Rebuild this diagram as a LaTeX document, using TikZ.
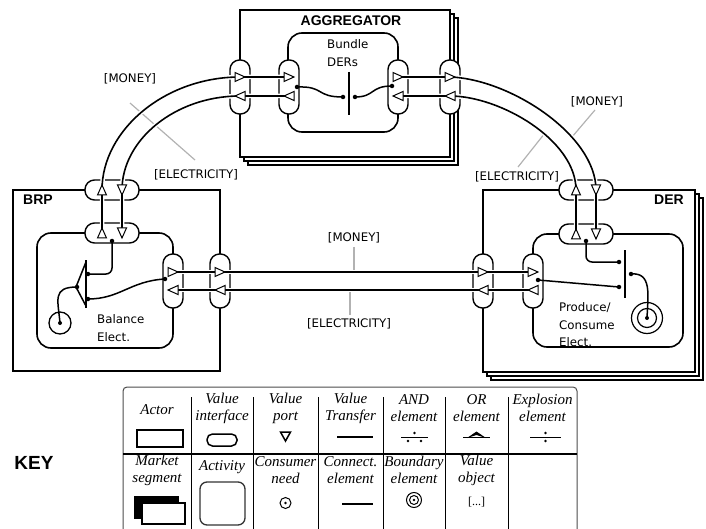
\documentclass[tikz,border=0pt]{standalone}
\usepackage{fontspec}
\setmainfont{DejaVu Sans}
\newfontfamily\ttlfont{Liberation Sans}
\newfontfamily\keyfont{Liberation Serif}
\begin{document}
\begin{tikzpicture}[x=1pt,y=-1pt,
  actor/.style={draw, line width=1.7pt, fill=white},
  activ/.style={draw, line width=1.6pt, rounded corners=14pt},
  vif/.style={draw, line width=1.4pt, fill=white, rounded corners=9.5pt, inner sep=0pt},
  vifv/.style={vif, minimum width=20pt, minimum height=54pt},
  vifh/.style={vif, minimum width=54pt, minimum height=20pt},
  xfer/.style={line width=1.6pt, preaction={draw=white, line width=4.5pt}},
  conn/.style={line width=1.5pt},
  lbl/.style={font=\fontsize{11.8}{17.5}\selectfont, inner sep=0pt},
  ttl/.style={font=\ttlfont\bfseries\fontsize{14}{16}\selectfont, inner sep=0pt},
  greyline/.style={draw=black!30, line width=1.2pt},
  dotn/.style={circle, fill, inner sep=0pt, minimum size=4.5pt},
  keytxt/.style={font=\keyfont\itshape\fontsize{15}{17}\selectfont, align=center, inner sep=0pt},
  port/.pic={\draw[line width=1pt, fill=white, line join=miter] (-5,-4.5) -- (5,0) -- (-5,4.5) -- cycle;}
]
\useasboundingbox (0,0) rectangle (706,529);

% ---------------- actors ----------------
% AGGREGATOR (market segment)
\draw[actor] (248,18) rectangle (458,165);
\draw[actor] (244,14) rectangle (454,161);
\draw[actor] (240,10) rectangle (450,157);
\node[ttl] (aggT) at (351,21) {AGGREGATOR};
% BRP (actor)
\draw[actor] (13,190) rectangle (220,371);
\node[ttl] (brpT) at (38,200) {BRP};
% DER (market segment)
\draw[actor] (491,198) rectangle (703,380);
\draw[actor] (487,194) rectangle (699,376);
\draw[actor] (483,190) rectangle (695,372);
\node[ttl] (derT) at (669,200) {DER};

% ---------------- activities ----------------
\draw[activ] (288,33) rectangle (398,132);
\draw[activ] (37,233) rectangle (173,348);
\draw[activ] (533,234) rectangle (683,347);

\node[lbl, align=left, anchor=west] (aggTxt) at (327,53) {Bundle\\DERs};
\node[lbl, align=left, anchor=west] (brpTxt) at (97,328) {Balance\\Elect.};
\node[lbl, align=left, anchor=west] (derTxt) at (559,325) {Produce/\\Consume\\Elect.};

% ---------------- value interfaces ----------------
\node[vifv] (aggLo) at (240,87) {};
\node[vifv] (aggLi) at (289,87) {};
\node[vifv] (aggRi) at (398,87) {};
\node[vifv] (aggRo) at (450,87) {};
\node[vifh] (brpTo) at (112,190) {};
\node[vifh] (brpTi) at (112,233) {};
\node[vifv] (brpRi) at (173,281) {};
\node[vifv] (brpRo) at (220,281) {};
\node[vifv] (derLo) at (483,281) {};
\node[vifv] (derLi) at (533,281) {};
\node[vifh] (derTo) at (586,190) {};
\node[vifh] (derTi) at (586,234) {};

% port coordinates
\coordinate (aggLo-t) at (240,77); \coordinate (aggLo-b) at (240,96);
\coordinate (aggLi-t) at (289,77); \coordinate (aggLi-b) at (289,96);
\coordinate (aggRi-t) at (398,77); \coordinate (aggRi-b) at (398,96);
\coordinate (aggRo-t) at (450,77); \coordinate (aggRo-b) at (450,96);
\coordinate (brpTo-l) at (102,190); \coordinate (brpTo-r) at (122,190);
\coordinate (brpTi-l) at (102,233); \coordinate (brpTi-r) at (122,233);
\coordinate (brpRi-t) at (173,272); \coordinate (brpRi-b) at (173,290);
\coordinate (brpRo-t) at (220,272); \coordinate (brpRo-b) at (220,290);
\coordinate (derLo-t) at (483,272); \coordinate (derLo-b) at (483,290);
\coordinate (derLi-t) at (533,272); \coordinate (derLi-b) at (533,290);
\coordinate (derTo-l) at (576,190); \coordinate (derTo-r) at (596,190);
\coordinate (derTi-l) at (576,234); \coordinate (derTi-r) at (596,234);

% ---------------- label ticks ----------------
\node[lbl] (m1) at (130,79) {[MONEY]};
\node[lbl] (e1) at (196,175) {[ELECTRICITY]};
\node[lbl] (m2) at (597,102) {[MONEY]};
\node[lbl] (e2) at (517,177) {[ELECTRICITY]};
\node[lbl] (m3) at (354,238) {[MONEY]};
\node[lbl] (e3) at (349,324) {[ELECTRICITY]};
\coordinate (g1a) at (130,103); \coordinate (g1b) at (195,160);
\coordinate (g2a) at (595,110); \coordinate (g2b) at (572,137);
\coordinate (g3a) at (545,133); \coordinate (g3b) at (518,167);
\coordinate (g4a) at (354,247); \coordinate (g4b) at (354,272);
\coordinate (g5a) at (350,290); \coordinate (g5b) at (350,315);
\draw[greyline] (g1a) -- (g1b);
\draw[greyline] (g2a) -- (g2b);
\draw[greyline] (g3a) -- (g3b);
\draw[greyline] (g4a) -- (g4b);
\draw[greyline] (g5a) -- (g5b);

% ---------------- value transfers ----------------
\draw[xfer] (brpTi-l) -- (brpTo-l) .. controls (102,130) and (165,77) .. (aggLo-t) -- (aggLi-t);
\draw[xfer] (aggLi-b) -- (aggLo-b) .. controls (175,96) and (122,140) .. (brpTo-r) -- (brpTi-r);
\draw[xfer] (aggRi-t) -- (aggRo-t) .. controls (510,79) and (596,135) .. (derTo-r) -- (derTi-r);
\draw[xfer] (derTi-l) -- (derTo-l) .. controls (576,140) and (500,96) .. (aggRo-b) -- (aggRi-b);
\draw[xfer] (brpRi-t) -- (derLi-t);
\draw[xfer] (derLi-b) -- (brpRi-b);

% ---------------- ports ----------------
\foreach \p in {aggLo-t,aggLi-t,aggRi-t,aggRo-t,brpRi-t,brpRo-t,derLo-t,derLi-t}
  \pic at (\p) {port};
\foreach \p in {aggLo-b,aggLi-b,aggRi-b,aggRo-b,brpRi-b,brpRo-b,derLo-b,derLi-b}
  \pic[rotate=180] at (\p) {port};
\foreach \p in {brpTo-l,brpTi-l,derTo-l,derTi-l}
  \pic[rotate=90] at (\p) {port};
\foreach \p in {brpTo-r,brpTi-r,derTo-r,derTi-r}
  \pic[rotate=-90] at (\p) {port};

% ---------------- AGGREGATOR internals ----------------
\node[dotn] (aggD1) at (297,87) {};
\node[dotn] (aggE1) at (343,97) {};
\node[dotn] (aggE2) at (355,97) {};
\node[dotn] (aggD2) at (392,86) {};
\draw[conn] (349,72) -- (349,115);
\draw[conn] (aggD1.center) .. controls (325,86) and (315,97) .. (aggE1.center);
\draw[conn] (aggE2.center) .. controls (375,97) and (370,86) .. (aggD2.center);

% ---------------- BRP internals ----------------
\node[dotn] (brpD1) at (112,241) {};
\node[dotn] (brpD2) at (165,279) {};
\node[dotn] (brpO1) at (88,274) {};
\node[dotn] (brpO2) at (88,299) {};
\node[dotn] (brpO3) at (77,287) {};
\draw[conn] (86,260) -- (86,308);
\draw[conn, line join=miter] (86,262) -- (76,287) -- (86,306);
\node[draw, circle, line width=1.3pt, minimum size=22pt, inner sep=0pt] (brpCN) at (60,323) {};
\fill (brpCN.center) circle (2pt);
\draw[conn, rounded corners=6pt] (brpD1.center) |- (brpO1.center);
\draw[conn] (brpD2.center) .. controls (130,281) and (120,299) .. (brpO2.center);
\draw[conn] (brpO3.center) .. controls (52,287) and (58,300) .. (brpCN.center);

% ---------------- DER internals ----------------
\node[dotn] (derD1) at (586,241) {};
\node[dotn] (derD2) at (538,280) {};
\node[dotn] (derA1) at (619,262) {};
\node[dotn] (derA2) at (619,287) {};
\node[dotn] (derA3) at (631,274) {};
\draw[conn] (625,250) -- (625,298);
\node[draw, circle, line width=1.2pt, minimum size=31pt, inner sep=0pt] (derBE) at (647,318) {};
\draw[line width=1.2pt] (derBE.center) circle (9.5pt);
\fill (derBE.center) circle (2pt);
\draw[conn, rounded corners=6pt] (derD1.center) |- (derA1.center);
\draw[conn] (derD2.center) -- (derA2.center);
\draw[conn] (derA3.center) .. controls (652,272) and (648,295) .. (derBE.center);

% ---------------- KEY ----------------
\node[font=\ttlfont\bfseries\fontsize{19}{21}\selectfont, inner sep=0pt] (keyT) at (34,463) {KEY};
\draw[line width=1pt, draw=black!70, rounded corners=4pt] (123,545) |- (577,387) -- (577,545);
\draw[line width=1.3pt] (123,454) -- (577,454);
\foreach \x in {191,253,318,383,445,508}
  \draw[line width=0.8pt] (\x,397) -- (\x,545);

\node[keytxt] (k1) at (157,410) {Actor};
\node[keytxt] (k2) at (222,408) {Value\\interface};
\node[keytxt] (k3) at (285.5,408) {Value\\port};
\node[keytxt] (k4) at (350.5,408) {Value\\Transfer};
\node[keytxt] (k5) at (414,408) {AND\\element};
\node[keytxt] (k6) at (476.5,408) {OR\\element};
\node[keytxt] (k7) at (542.5,408) {Explosion\\element};
\node[keytxt] (k8) at (157,470) {Market\\segment};
\node[keytxt] (k9) at (222,467) {Activity};
\node[keytxt] (k10) at (285.5,470) {Consumer\\need};
\node[keytxt] (k11) at (350.5,470) {Connect.\\element};
\node[keytxt] (k12) at (414,470) {Boundary\\element};
\node[keytxt] (k13) at (476.5,470) {Value\\object};
\node[font=\keyfont\fontsize{12}{14}\selectfont, inner sep=0pt] (k14) at (476.5,502) {[...]};

% key symbols
\draw[line width=2pt] (137,430) rectangle (183,447);
\draw[line width=1.5pt, rounded corners=5.5pt] (207,434) rectangle (237,446);
\draw[line width=1.5pt, line join=miter] (280.5,432) -- (290.5,432) -- (285.5,441) -- cycle;
\draw[line width=2.5pt] (337,437) -- (373,437);
\draw[line width=1pt] (401,437) -- (428,437);
\fill (414.5,433) circle (1.3pt) (408,441) circle (1.3pt) (421,441) circle (1.3pt);
\draw[line width=1pt] (463,437) -- (490,437);
\fill (467,438) -- (476.5,431.5) -- (486,438) -- (476.5,435) -- cycle;
\draw[line width=1pt] (530,437) -- (561,437);
\fill (545.5,433) circle (1.3pt) (545.5,441) circle (1.3pt);
\draw[line width=2.8pt, fill=black] (135,497) rectangle (178,518);
\draw[line width=2pt, fill=white] (142,503) rectangle (185,524);
\draw[line width=1.3pt, draw=black!80, rounded corners=7pt] (200,482) rectangle (245,525);
\draw[line width=1pt] (285.5,503) circle (5.5pt);
\fill (285.5,503) circle (1.3pt);
\draw[line width=2pt] (342,504) -- (373,504);
\draw[line width=1pt] (414,500) circle (7.5pt);
\draw[line width=1pt] (414,500) circle (4.5pt);
\fill (414,500) circle (1.3pt);
\end{tikzpicture}
\end{document}
